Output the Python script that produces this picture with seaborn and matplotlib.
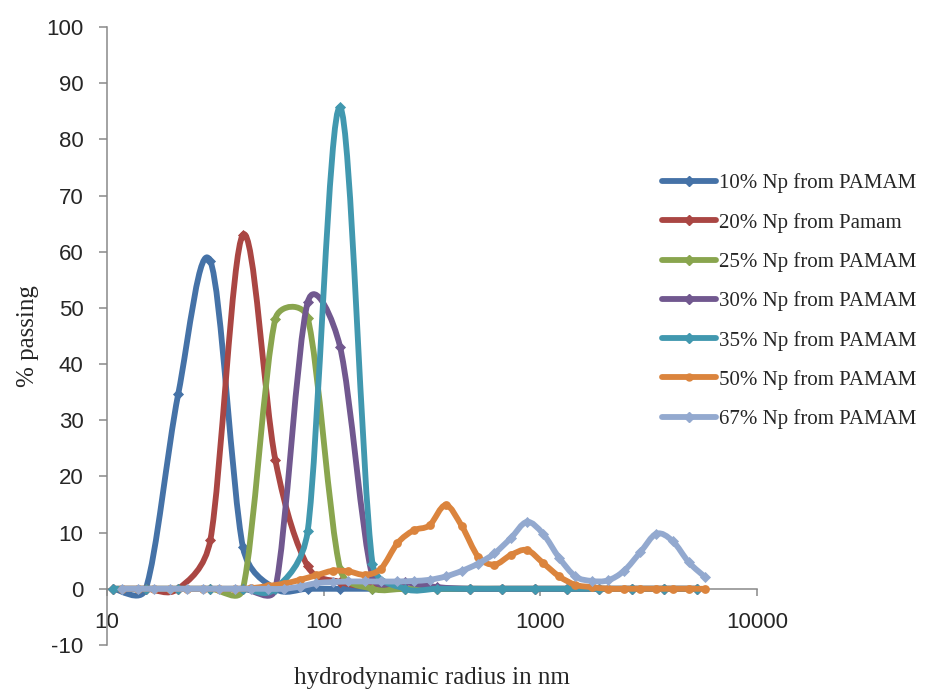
import numpy as np
import seaborn as sns
import matplotlib.pyplot as plt
from matplotlib.path import Path
from matplotlib.patches import PathPatch
from matplotlib.lines import Line2D

# size bins (nm): coarse bins (diamond series) and fine bins (50% / 67%)
size_coarse = [10.7, 15.1, 21.3, 30.0, 42.4, 59.8, 84.4, 119, 168, 237,
               335, 473, 667, 941, 1328, 1874, 2645, 3733, 5268]
size_fine = [11.7, 13.9, 16.5, 19.6, 23.3, 27.7, 32.9, 39.1, 46.4, 55.1,
             65.5, 77.8, 92.4, 110, 130, 155, 184, 219, 260, 308,
             366, 435, 517, 614, 730, 867, 1029, 1223, 1453, 1726,
             2050, 2435, 2893, 3437, 4082, 4850, 5761]

np10 = [0, 0, 34.6, 58.3, 7.4, 0, 0, 0, 0, 0, 0, 0, 0, 0, 0, 0, 0, 0, 0]
np20 = [0, 0, 0, 8.7, 63.0, 23.0, 4.0, 1.2, 0.3, 0, 0, 0, 0, 0, 0, 0, 0, 0, 0]
np25 = [0, 0, 0, 0, 0, 48.0, 48.2, 3.6, 0, 0, 0, 0, 0, 0, 0, 0, 0, 0, 0]
np30 = [0, 0, 0, 0, 0, 0, 51.0, 43.1, 2.2, 1.2, 0.3, 0, 0, 0, 0, 0, 0, 0, 0]
np35 = [0, 0, 0, 0, 0, 0, 10.3, 85.7, 4.5, 0, 0, 0, 0, 0, 0, 0, 0, 0, 0]
np50 = [0, 0, 0, 0, 0, 0, 0, 0, 0.1, 0.5,
        0.9, 1.6, 2.4, 3.2, 3.1, 2.5, 3.6, 8.1, 10.4, 11.3,
        14.9, 11.1, 5.7, 4.3, 6.0, 6.9, 4.6, 2.2, 0.7, 0.3,
        0, 0, 0, 0, 0, 0, 0]
np67 = [0, 0, 0, 0, 0, 0, 0, 0, 0, 0,
        0, 0.4, 1.0, 1.2, 1.3, 1.3, 1.3, 1.3, 1.4, 1.6,
        2.2, 3.2, 4.5, 6.3, 9.0, 11.9, 9.8, 5.5, 2.2, 1.4,
        1.5, 3.2, 6.5, 9.8, 8.5, 4.7, 2.1]

labels = ['10% Np from PAMAM', '20% Np from Pamam', '25% Np from PAMAM',
          '30% Np from PAMAM', '35% Np from PAMAM', '50% Np from PAMAM',
          '67% Np from PAMAM']
colors = ['#4572A7', '#AA4643', '#89A54E', '#71588F', '#4198AF', '#DB843D', '#93A9CF']

series = [(size_coarse, np10, 'D'), (size_coarse, np20, 'D'), (size_coarse, np25, 'D'),
          (size_coarse, np30, 'D'), (size_coarse, np35, 'D'), (size_fine, np50, 'o'),
          (size_fine, np67, 'D')]


def smooth_path(ax, xs, ys):
    # Excel-like smoothed line: cubic Bezier through the points, built in display space
    pts = ax.transData.transform(np.column_stack([xs, ys]))
    n = len(pts)
    verts = [pts[0]]
    codes = [Path.MOVETO]
    for i in range(n - 1):
        p0 = pts[max(i - 1, 0)]
        p1 = pts[i]
        p2 = pts[i + 1]
        p3 = pts[min(i + 2, n - 1)]
        seg = np.hypot(*(p2 - p1))
        d02 = np.hypot(*(p2 - p0))
        d13 = np.hypot(*(p3 - p1))
        f1 = min(1 / 6, 0.5 * seg / d02) if d02 > 0 else 0
        f2 = min(1 / 6, 0.5 * seg / d13) if d13 > 0 else 0
        verts += [p1 + f1 * (p2 - p0), p2 - f2 * (p3 - p1), p2]
        codes += [Path.CURVE4] * 3
    return Path(ax.transData.inverted().transform(np.array(verts)), codes)


sns.set_style('white')
plt.rcParams['font.family'] = ['Liberation Sans', 'DejaVu Sans']
plt.rcParams['axes.unicode_minus'] = False

fig = plt.figure(figsize=(9.28, 6.91), dpi=100)
ax = fig.add_axes([0.1153, 0.0666, 0.7004, 0.8943])
ax.set_xscale('log')
ax.set_xlim(10, 10000)
ax.set_ylim(-10, 100)

for k, ((xs, ys, mk), c) in enumerate(zip(series, colors)):
    ax.add_patch(PathPatch(smooth_path(ax, xs, ys), facecolor='none', edgecolor=c,
                           lw=4.2, capstyle='round', joinstyle='round', zorder=3 + 2 * k))
    sns.scatterplot(x=xs, y=ys, marker=mk, s=32 if mk == 'D' else 40, color=c,
                    edgecolor=c, linewidth=0, ax=ax, zorder=4 + 2 * k, clip_on=False)

ax.set_yticks(range(-10, 101, 10))
ax.set_xticks([10, 100, 1000, 10000])
ax.set_xticklabels(['10', '100', '1000', '10000'])
ax.minorticks_off()
ax.spines['bottom'].set_position(('data', 0))
ax.spines['top'].set_visible(False)
ax.spines['right'].set_visible(False)
for sp in ['left', 'bottom']:
    ax.spines[sp].set_color('#898989')
    ax.spines[sp].set_linewidth(1.1)
ax.tick_params(axis='y', direction='out', length=6, width=1.1, color='#898989',
               pad=11, labelsize=16, left=True)
ax.tick_params(axis='x', direction='out', length=5, width=1.1, color='#898989',
               pad=12, labelsize=16, bottom=True)

ax.set_xlabel('hydrodynamic radius in nm', fontsize=18, family='Liberation Serif')
ax.set_ylabel('% passing', fontsize=18, family='Liberation Serif')
ax.xaxis.set_label_coords(0.5, -0.035)
ax.yaxis.set_label_coords(-0.105, 0.5)

handles = [Line2D([], [], color=c, lw=4.2, marker=s[2], markersize=5)
           for c, s in zip(colors, series)]
fig.legend(handles, labels, loc='center left', bbox_to_anchor=(0.7134, 0.564),
           frameon=False, borderaxespad=0, borderpad=0, handlelength=2.6,
           handletextpad=0.15, labelspacing=0.93,
           prop={'family': 'Liberation Serif', 'size': 15})

fig.savefig('out.png', dpi=100)
